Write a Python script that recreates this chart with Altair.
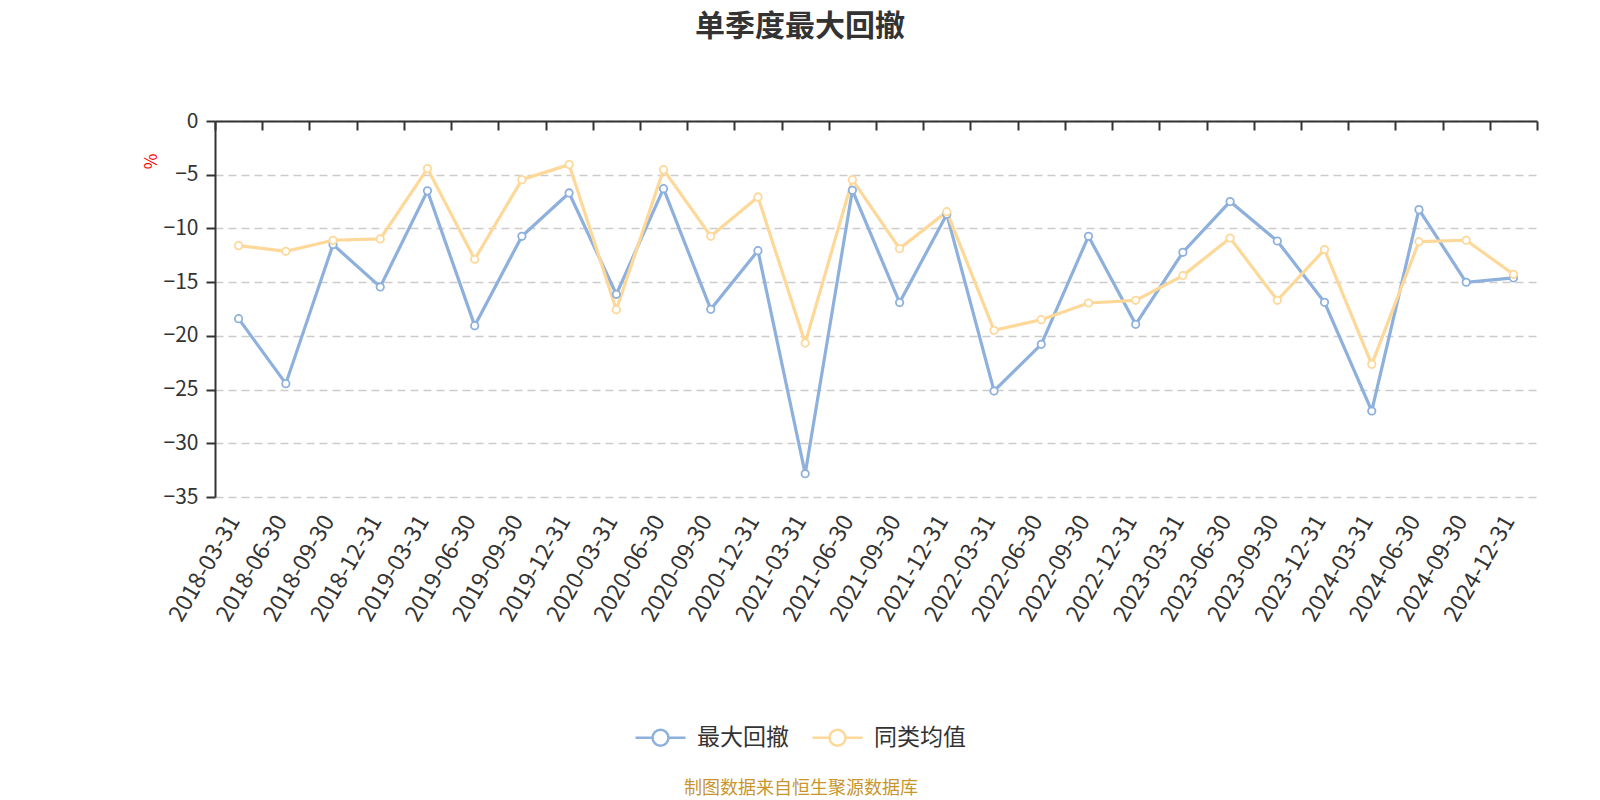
import altair as alt
import pandas as pd

dates = ["2018-03-31", "2018-06-30", "2018-09-30", "2018-12-31",
         "2019-03-31", "2019-06-30", "2019-09-30", "2019-12-31",
         "2020-03-31", "2020-06-30", "2020-09-30", "2020-12-31",
         "2021-03-31", "2021-06-30", "2021-09-30", "2021-12-31",
         "2022-03-31", "2022-06-30", "2022-09-30", "2022-12-31",
         "2023-03-31", "2023-06-30", "2023-09-30", "2023-12-31",
         "2024-03-31", "2024-06-30", "2024-09-30", "2024-12-31"]
max_dd = [-18.40, -24.45, -11.50, -15.45, -6.50, -19.05, -10.73, -6.70,
          -16.13, -6.30, -17.53, -12.07, -32.83, -6.45, -16.90, -8.68,
          -25.13, -20.79, -10.73, -18.93, -12.22, -7.50, -11.17, -16.88,
          -26.99, -8.25, -15.01, -14.61]
peer_avg = [-11.60, -12.13, -11.10, -10.98, -4.43, -12.87, -5.46, -4.06,
            -17.56, -4.53, -10.73, -7.07, -20.66, -5.46, -11.88, -8.44,
            -19.48, -18.49, -16.94, -16.69, -14.39, -10.89, -16.69, -11.97,
            -22.65, -11.23, -11.10, -14.27]
series_names = ["最大回撤", "同类均值"]
series_colors = ["#8eb0dc", "#fdd898"]
y_ticks = [0, -5, -10, -15, -20, -25, -30, -35]
title_text = "单季度最大回撤"
footer_text = "制图数据来自恒生聚源数据库"

rows = []
for d, v in zip(dates, max_dd):
    rows.append({"date": d, "series": series_names[0], "value": v})
for d, v in zip(dates, peer_avg):
    rows.append({"date": d, "series": series_names[1], "value": v})
df = pd.DataFrame(rows)

FONT = "Microsoft YaHei, Noto Sans CJK SC"
W, H = 1322, 376

xscale = alt.Scale(type="band", paddingInner=0, paddingOuter=0, domain=dates)
yscale = alt.Scale(domain=[-35, 0], nice=False, zero=False)
cscale = alt.Scale(domain=series_names, range=series_colors)

y_enc = alt.Y("value:Q", scale=yscale, axis=alt.Axis(
    title="%", titleColor="red", titleFontSize=17, titleFontWeight="normal",
    titleX=-64, titleY=40, titleAngle=-90, titleAlign="center", titleBaseline="middle",
    titleFont=FONT,
    values=y_ticks, labelFontSize=21, labelColor="#333333", labelPadding=8,
    labelFont=FONT, tickSize=9, tickWidth=2, tickColor="#333333",
    domainColor="#333333", domainWidth=2,
    grid=True, gridDash=[8, 5], gridColor="#cccccc", gridWidth=1.5))

color_enc = alt.Color("series:N", scale=cscale, sort=series_names, legend=alt.Legend(
    title=None, orient="none", legendX=419, legendY=590, direction="horizontal",
    symbolType="M-1,0L-0.32,0M0.32,0L1,0M0.32,0A0.32,0.32,0,1,1,-0.32,0A0.32,0.32,0,1,1,0.32,0",
    symbolSize=2500, symbolStrokeWidth=2.5, symbolFillColor="white",
    labelFontSize=23, labelColor="#333333", labelFont=FONT, labelOffset=10,
    columnPadding=18, padding=0))

lines = alt.Chart(df).mark_line(strokeWidth=3.2).encode(
    x=alt.X("date:N", scale=xscale, bandPosition=0.5, sort=dates, title=None,
            axis=alt.Axis(orient="bottom", domain=False, ticks=False, grid=False,
                          labelAngle=-60, labelAlign="right", labelBaseline="middle",
                          labelPadding=20, labelOffset=-4, labelFontSize=23,
                          labelColor="#333333", labelFont=FONT)),
    y=y_enc,
    color=color_enc,
)

points = alt.Chart(df).mark_point(filled=False, fill="white", fillOpacity=1,
                                  size=55, strokeWidth=1.8, opacity=1).encode(
    x=alt.X("date:N", scale=xscale, bandPosition=0.5, sort=dates, title=None,
            axis=alt.Axis(orient="bottom", offset=-H, labels=False, domain=True,
                          domainColor="#333333", domainWidth=2, ticks=True,
                          tickBand="extent", tickSize=9, tickWidth=2,
                          tickColor="#333333", grid=False)),
    y=alt.Y("value:Q", scale=yscale),
    color=alt.Color("series:N", scale=cscale, sort=series_names),
)

footer = alt.Chart(pd.DataFrame({"t": [footer_text]})).mark_text(
    fontSize=18, color="#c8962d", font=FONT, align="center", baseline="middle"
).encode(text="t:N", x=alt.value(586), y=alt.value(668))

chart = alt.layer(lines, points, footer).resolve_axis(x="independent").properties(
    width=W, height=H,
    autosize=alt.AutoSizeParams(type="none"),
    padding={"left": 215, "top": 121, "right": 63, "bottom": 303},
    title=alt.TitleParams(title_text, fontSize=30, fontWeight="bold", color="#333333",
                          font=FONT, anchor="middle", frame="group", dx=-76, offset=68),
).configure(background="white").configure_view(stroke=None)

chart.save("out.html", embed_options={"renderer": "svg", "actions": False})
